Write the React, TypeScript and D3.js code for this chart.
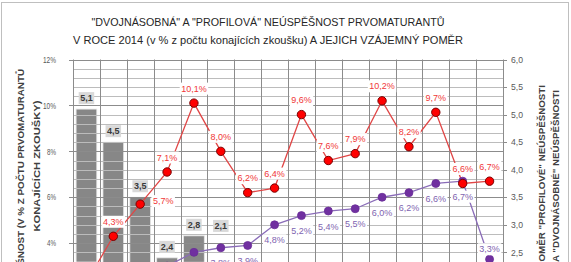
import React from "react";
import * as d3 from "d3";

// ---- data ----
const categories = ["1", "2", "3", "4", "5", "6", "7", "8", "9", "10", "11", "12", "13", "14", "15", "16"];
// "profilová" neúspěšnost (%), red line
const profilova = [2.3, 4.3, 5.7, 7.1, 10.1, 8.0, 6.2, 6.4, 9.6, 7.6, 7.9, 10.2, 8.2, 9.7, 6.6, 6.7];
// "dvojnásobná" neúspěšnost (%), purple line
const dvojnasobna = [0.45, 0.96, 1.6, 3.0, 3.6, 3.8, 3.9, 4.8, 5.2, 5.4, 5.5, 6.0, 6.2, 6.6, 6.7, 3.3];
// poměr (bars, right axis)
const pomer = [5.1, 4.5, 3.5, 2.4, 2.8, 2.1, 1.6, 1.3, 1.8, 1.4, 1.4, 1.7, 1.3, 1.5, 1.0, 2.0];

const leftTicks = [0, 2, 4, 6, 8, 10, 12];
const rightTicks = [1, 1.5, 2, 2.5, 3, 3.5, 4, 4.5, 5, 5.5, 6];

const titleLines = [
  "\"DVOJNÁSOBNÁ\" A \"PROFILOVÁ\" NEÚSPĚŠNOST PRVOMATURANTŮ",
  "V ROCE 2014  (v % z počtu konajících zkoušku) A JEJICH VZÁJEMNÝ POMĚR",
];
const leftTitleLines = ["NEÚSPĚŠNOST (V % Z POČTU PRVOMATURANTŮ", "KONAJÍCÍCH ZKOUŠKY)"];
const rightTitleLines = ["POMĚR \"PROFILOVÉ\" NEÚSPĚŠNOSTI", "A \"DVOJNÁSOBNÉ\" NEÚSPĚŠNOSTI"];

// label placement styles
const redRightLabels = new Set([2]);
const purpleAboveLabels = new Set([15]);
const barLabelAnchorValue: Record<number, number> = { 5: 2.78 };

const W = 571;
const H = 262;
const P = { left: 73, right: 503, top: 59.5, bottom: 335 };

const FONT = "'Liberation Sans', Arial, sans-serif";

const czPct = (v: number) => d3.format(".1f")(v).replace(".", ",") + "%";
const czNum = (v: number) => d3.format(".1f")(v).replace(".", ",");

function textW(s: string, size: number) {
  let w = 0;
  for (const ch of s) {
    if (/[0-9]/.test(ch)) w += 0.556;
    else if (ch === "," || ch === ".") w += 0.278;
    else if (ch === "%") w += 0.889;
    else w += 0.6;
  }
  return w * size;
}

function LabelBox({ x, y, text, color, bg, size, bold }: any) {
  const w = textW(text, size) + 3;
  const h = size + 3;
  return (
    <g>
      <rect x={x - w / 2} y={y - h / 2} width={w} height={h} fill={bg} />
      <text
        x={x}
        y={y + size * 0.35}
        textAnchor="middle"
        fontSize={size}
        fontFamily={FONT}
        fontWeight={bold ? "bold" : "normal"}
        fill={color}
      >
        {text}
      </text>
    </g>
  );
}

export default function App() {
  const idx = categories.map((_, i) => i);
  const x = d3.scaleBand<number>().domain(idx).range([P.left, P.right]).padding(0);
  const bw = x.bandwidth();
  const cx = (i: number) => (x(i) as number) + bw / 2;
  const yL = d3.scaleLinear().domain([0, 12]).range([P.bottom, P.top]);
  const yR = d3.scaleLinear().domain([1, 6]).range([P.bottom, P.top]);

  const minor = d3.range(0, 12.0001, 0.4);
  const lineRed = d3
    .line<number>()
    .x((_, i) => cx(i))
    .y((d) => yL(d));
  const barW = bw * 0.77;

  return (
    <svg
      width={W}
      height={H}
      viewBox={`0 0 ${W} ${H}`}
      style={{ position: "absolute", left: 0, top: 0, background: "#fff" }}
    >
      <rect x={0} y={0} width={W} height={H} fill="#fff" />
      <rect x={1.5} y={2.5} width={567} height={320} fill="none" stroke="#bfbfbf" />

      {/* title */}
      {titleLines.map((t, i) => (
        <text
          key={i}
          x={268}
          y={25.5 + i * 18.5}
          textAnchor="middle"
          fontSize={11}
          fontFamily={FONT}
          fill="#262626"
          textLength={i === 0 ? 353 : 390}
          lengthAdjust="spacingAndGlyphs"
        >
          {t}
        </text>
      ))}

      {/* bars */}
      {pomer.map((v, i) => (
        <rect
          key={i}
          x={cx(i) - barW / 2}
          y={yR(v)}
          width={barW}
          height={P.bottom - yR(v)}
          fill="#878787"
          stroke="#e6e6e6"
          strokeWidth={0.8}
        />
      ))}

      {/* gridlines */}
      {minor.map((v, i) => (
        <line
          key={"m" + i}
          x1={P.left}
          x2={P.right}
          y1={Math.round(yL(v)) + 0.5}
          y2={Math.round(yL(v)) + 0.5}
          stroke="#bcbcbc"
          strokeWidth={1}
        />
      ))}
      {leftTicks.map((v) => (
        <line
          key={"M" + v}
          x1={P.left - 4}
          x2={P.right}
          y1={Math.round(yL(v)) + 0.5}
          y2={Math.round(yL(v)) + 0.5}
          stroke="#8c8c8c"
          strokeWidth={1}
        />
      ))}
      {d3.range(0, categories.length + 1).map((i) => {
        const xx = Math.round(P.left + i * bw) + 0.5;
        return <line key={"v" + i} x1={xx} x2={xx} y1={P.top} y2={P.bottom} stroke="#8c8c8c" strokeWidth={1} />;
      })}
      {rightTicks.map((v) => (
        <line
          key={"rt" + v}
          x1={P.right}
          x2={P.right + 4}
          y1={Math.round(yR(v)) + 0.5}
          y2={Math.round(yR(v)) + 0.5}
          stroke="#8c8c8c"
        />
      ))}

      {/* axis tick labels */}
      {leftTicks.map((v) => (
        <text
          key={"lt" + v}
          x={56}
          y={yL(v) + 3.2}
          textAnchor="end"
          fontSize={9}
          fontFamily={FONT}
          fill="#595959"
          textLength={v >= 10 ? 13 : 9}
          lengthAdjust="spacingAndGlyphs"
        >
          {v + "%"}
        </text>
      ))}
      {rightTicks.map((v) => (
        <text
          key={"rl" + v}
          x={511}
          y={yR(v) + 3.2}
          fontSize={9}
          fontFamily={FONT}
          fill="#595959"
          textLength={12}
          lengthAdjust="spacingAndGlyphs"
        >
          {czNum(v)}
        </text>
      ))}

      {/* axis titles */}
      {leftTitleLines.map((t, i) => {
        const bx = i === 0 ? 24 : 40;
        const by = i === 0 ? 69 : 166;
        return (
          <text
            key={"lat" + i}
            transform={`translate(${bx},${by}) rotate(-90)`}
            textAnchor={i === 0 ? "end" : "middle"}
            fontSize={9}
            fontWeight="bold"
            fontFamily={FONT}
            fill="#404040"
            textLength={i === 0 ? 236 : 131}
            lengthAdjust="spacingAndGlyphs"
          >
            {t}
          </text>
        );
      })}
      {rightTitleLines.map((t, i) => {
        const bx = i === 0 ? 545 : 558.5;
        const by = i === 0 ? 85 : 90;
        return (
          <text
            key={"rat" + i}
            transform={`translate(${bx},${by}) rotate(-90)`}
            textAnchor="end"
            fontSize={9}
            fontWeight="bold"
            fontFamily={FONT}
            fill="#404040"
            textLength={i === 0 ? 183 : 172}
            lengthAdjust="spacingAndGlyphs"
          >
            {t}
          </text>
        );
      })}

      {/* category labels (below visible area) */}
      {categories.map((c, i) => (
        <text key={"c" + i} x={cx(i)} y={P.bottom + 14} textAnchor="middle" fontSize={9} fontFamily={FONT} fill="#595959">
          {c}
        </text>
      ))}

      {/* bar labels */}
      {pomer.map((v, i) => {
        const av = barLabelAnchorValue[i] ?? v;
        return (
          <LabelBox
            key={"bl" + i}
            x={cx(i)}
            y={yR(av) - 11}
            text={czNum(v)}
            color="#3a3a3a"
            bg="#d9d9d9"
            size={9}
            bold
          />
        );
      })}

      {/* purple line */}
      <path d={lineRed(dvojnasobna) || ""} fill="none" stroke="#8a6cb8" strokeWidth={1.3} />
      {/* red line */}
      <path d={lineRed(profilova) || ""} fill="none" stroke="#e04646" strokeWidth={1.3} />

      {dvojnasobna.map((v, i) => (
        <circle key={"pc" + i} cx={cx(i)} cy={yL(v)} r={4} fill="#7030a0" stroke="#6a2d98" strokeWidth={0.8} />
      ))}
      {profilova.map((v, i) => (
        <circle key={"rc" + i} cx={cx(i)} cy={yL(v)} r={4.2} fill="#ff0000" stroke="#7a0000" strokeWidth={1} />
      ))}

      {/* data labels */}
      {profilova.map((v, i) => {
        const right = redRightLabels.has(i);
        return (
          <LabelBox
            key={"rl" + i}
            x={cx(i) + (right ? 23 : 0)}
            y={yL(v) + (right ? -3 : -14.5)}
            text={czPct(v)}
            color="#f03838"
            bg="#ffffff"
            size={9}
          />
        );
      })}
      {dvojnasobna.map((v, i) => {
        const above = purpleAboveLabels.has(i);
        return (
          <LabelBox
            key={"pl" + i}
            x={cx(i)}
            y={yL(v) + (above ? -10 : 15.5)}
            text={czPct(v)}
            color="#8064b0"
            bg="#ffffff"
            size={9}
          />
        );
      })}
    </svg>
  );
}
